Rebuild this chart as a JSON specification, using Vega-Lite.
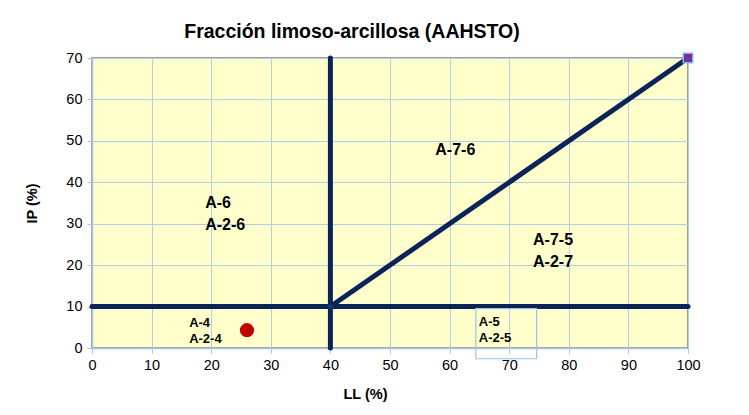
{
  "$schema": "https://vega.github.io/schema/vega-lite/v6.json",
  "width": 596,
  "height": 290,
  "autosize": {"type": "none"},
  "padding": {"left": 92, "top": 58, "right": 61, "bottom": 67},
  "background": "white",
  "title": {
    "text": "Fracción limoso-arcillosa (AAHSTO)",
    "font": "Liberation Sans",
    "fontSize": 19.5,
    "fontWeight": "bold",
    "color": "#000000",
    "anchor": "middle",
    "dx": -38,
    "offset": 6
  },
  "config": {
    "view": {"fill": "#ffffcc", "stroke": "#808080", "strokeWidth": 1.5},
    "axis": {
      "labelFont": "Liberation Sans",
      "labelFontSize": 14.5,
      "labelColor": "#000000",
      "labelFlush": false,
      "titleFont": "Liberation Sans",
      "titleFontSize": 14.5,
      "titleFontWeight": "bold",
      "titleColor": "#000000",
      "gridColor": "#b4cde8",
      "gridWidth": 1,
      "domainColor": "#a9c5e5",
      "domainWidth": 1.5,
      "tickColor": "#a9c5e5",
      "tickSize": 5
    }
  },
  "datasets": {
    "lines": [
      {"seg": "v", "LL": 40, "IP": 0},
      {"seg": "v", "LL": 40, "IP": 70},
      {"seg": "h", "LL": 0, "IP": 10},
      {"seg": "h", "LL": 100, "IP": 10},
      {"seg": "d", "LL": 40, "IP": 10},
      {"seg": "d", "LL": 100, "IP": 70}
    ],
    "bigLabels": [
      {"label": "A-7-6", "LL": 57.6, "IP": 47.8},
      {"label": "A-6", "LL": 19.0, "IP": 35.0},
      {"label": "A-2-6", "LL": 19.0, "IP": 29.7},
      {"label": "A-7-5", "LL": 74.0, "IP": 26.1},
      {"label": "A-2-7", "LL": 74.0, "IP": 20.8}
    ],
    "smallLabels": [
      {"label": "A-4", "LL": 16.3, "IP": 6.1},
      {"label": "A-2-4", "LL": 16.3, "IP": 2.2},
      {"label": "A-5", "LL": 64.9, "IP": 6.3},
      {"label": "A-2-5", "LL": 64.9, "IP": 2.4}
    ],
    "box": [{"x1": 64.4, "x2": 74.6, "y1": 9.5, "y2": -2.6}],
    "sample": [{"LL": 26, "IP": 4.3}],
    "corner": [{"LL": 100, "IP": 70}],
    "node": [{"LL": 40, "IP": 10}]
  },
  "layer": [
    {
      "data": {"name": "lines"},
      "mark": {"type": "line", "color": "#0a2459", "strokeWidth": 5, "strokeCap": "round"},
      "encoding": {
        "x": {
          "field": "LL", "type": "quantitative",
          "scale": {"domain": [0, 100], "nice": false},
          "axis": {"values": [0,10,20,30,40,50,60,70,80,90,100], "title": "LL (%)", "titleX": 273, "titleY": 39, "labelPadding": 5}
        },
        "y": {
          "field": "IP", "type": "quantitative",
          "scale": {"domain": [0, 70], "nice": false},
          "axis": {"values": [0,10,20,30,40,50,60,70], "title": "IP (%)", "titlePadding": 26, "labelPadding": 5}
        },
        "detail": {"field": "seg"}
      }
    },
    {
      "data": {"name": "node"},
      "mark": {"type": "point", "shape": "diamond", "filled": true, "color": "#1f3d7a", "size": 50},
      "encoding": {
        "x": {"field": "LL", "type": "quantitative"},
        "y": {"field": "IP", "type": "quantitative"}
      }
    },
    {
      "data": {"name": "box"},
      "mark": {"type": "rect", "fill": null, "stroke": "#9dc3e6", "strokeWidth": 1.2, "clip": false},
      "encoding": {
        "x": {"field": "x1", "type": "quantitative"},
        "x2": {"field": "x2"},
        "y": {"field": "y1", "type": "quantitative"},
        "y2": {"field": "y2"}
      }
    },
    {
      "data": {"name": "bigLabels"},
      "mark": {"type": "text", "align": "left", "baseline": "middle", "font": "Liberation Sans", "fontSize": 16, "fontWeight": "bold", "color": "#000000"},
      "encoding": {
        "x": {"field": "LL", "type": "quantitative"},
        "y": {"field": "IP", "type": "quantitative"},
        "text": {"field": "label"}
      }
    },
    {
      "data": {"name": "smallLabels"},
      "mark": {"type": "text", "align": "left", "baseline": "middle", "font": "Liberation Sans", "fontSize": 13, "fontWeight": "bold", "color": "#000000"},
      "encoding": {
        "x": {"field": "LL", "type": "quantitative"},
        "y": {"field": "IP", "type": "quantitative"},
        "text": {"field": "label"}
      }
    },
    {
      "data": {"name": "sample"},
      "mark": {"type": "point", "shape": "circle", "filled": true, "color": "#c00000", "size": 200, "opacity": 1},
      "encoding": {
        "x": {"field": "LL", "type": "quantitative"},
        "y": {"field": "IP", "type": "quantitative"}
      }
    },
    {
      "data": {"name": "corner"},
      "mark": {"type": "point", "shape": "square", "filled": true, "fill": "#7030a0", "stroke": "#8eb4e3", "strokeWidth": 1.5, "size": 90, "opacity": 1, "clip": false},
      "encoding": {
        "x": {"field": "LL", "type": "quantitative"},
        "y": {"field": "IP", "type": "quantitative"}
      }
    }
  ]
}
